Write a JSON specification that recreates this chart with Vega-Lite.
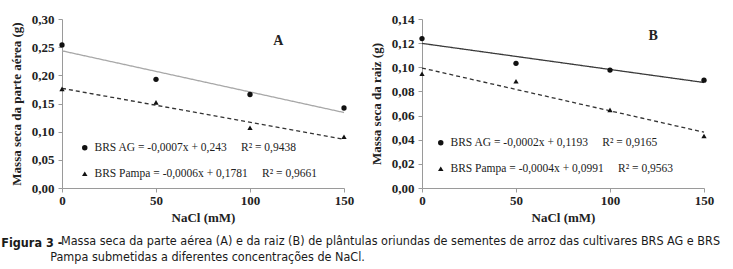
{
  "$schema": "https://vega.github.io/schema/vega-lite/v6.json",
  "padding": {"left": 1, "top": 13, "right": 5, "bottom": 5},
  "background": "white",
  "config": {
    "locale": {"number": {"decimal": ",", "thousands": ".", "grouping": [3], "currency": ["", ""]}},
    "view": {"stroke": null},
    "axis": {
      "grid": false,
      "domainColor": "#9a9a9a",
      "tickColor": "#9a9a9a",
      "tickSize": 4,
      "labelFont": "Liberation Serif",
      "labelFontWeight": "bold",
      "labelFontSize": 13,
      "labelColor": "#222",
      "labelOverlap": false,
      "labelFlush": false,
      "titleFont": "Liberation Serif",
      "titleFontWeight": "bold",
      "titleFontSize": 13,
      "titleColor": "#222"
    },
    "legend": {
      "labelFont": "Liberation Serif",
      "labelFontSize": 11.5,
      "labelColor": "#222",
      "labelLimit": 0,
      "padding": 0,
      "rowPadding": 13,
      "symbolSize": 30,
      "symbolFillColor": "#111",
      "symbolStrokeColor": "#111",
      "symbolStrokeWidth": 0
    },
    "concat": {"spacing": 16}
  },
  "datasets": {
    "pontosA": [
      {"nacl": 0, "massa": 0.254, "cultivar": "BRS AG"},
      {"nacl": 50, "massa": 0.193, "cultivar": "BRS AG"},
      {"nacl": 100, "massa": 0.166, "cultivar": "BRS AG"},
      {"nacl": 150, "massa": 0.142, "cultivar": "BRS AG"},
      {"nacl": 0, "massa": 0.176, "cultivar": "BRS Pampa"},
      {"nacl": 50, "massa": 0.152, "cultivar": "BRS Pampa"},
      {"nacl": 100, "massa": 0.107, "cultivar": "BRS Pampa"},
      {"nacl": 150, "massa": 0.091, "cultivar": "BRS Pampa"}
    ],
    "tendA": [
      {"nacl": 0, "massa": 0.2435, "serie": "AG"},
      {"nacl": 150, "massa": 0.134, "serie": "AG"},
      {"nacl": 0, "massa": 0.177, "serie": "Pampa"},
      {"nacl": 150, "massa": 0.0864, "serie": "Pampa"}
    ],
    "pontosB": [
      {"nacl": 0, "massa": 0.1238, "cultivar": "BRS AG"},
      {"nacl": 50, "massa": 0.1033, "cultivar": "BRS AG"},
      {"nacl": 100, "massa": 0.0977, "cultivar": "BRS AG"},
      {"nacl": 150, "massa": 0.0893, "cultivar": "BRS AG"},
      {"nacl": 0, "massa": 0.0946, "cultivar": "BRS Pampa"},
      {"nacl": 50, "massa": 0.0885, "cultivar": "BRS Pampa"},
      {"nacl": 100, "massa": 0.0647, "cultivar": "BRS Pampa"},
      {"nacl": 150, "massa": 0.0431, "cultivar": "BRS Pampa"}
    ],
    "tendB": [
      {"nacl": 0, "massa": 0.1198, "serie": "AG"},
      {"nacl": 150, "massa": 0.0874, "serie": "AG"},
      {"nacl": 0, "massa": 0.0994, "serie": "Pampa"},
      {"nacl": 150, "massa": 0.0462, "serie": "Pampa"}
    ],
    "rotuloA": [{"nacl": 115, "massa": 0.261, "rotulo": "A"}],
    "rotuloB": [{"nacl": 123, "massa": 0.1257, "rotulo": "B"}]
  },
  "title": {
    "text": ["\u200b\u00a0\u00a0\u00a0Massa seca da parte aérea (A) e da raiz (B) de plântulas oriundas de sementes de arroz das cultivares BRS AG e BRS", "Pampa submetidas a diferentes concentrações de NaCl."],
    "orient": "bottom",
    "anchor": "start",
    "frame": "bounds",
    "font": "DejaVu Sans Condensed, Liberation Sans Narrow, Liberation Sans",
    "fontSize": 12.5,
    "fontWeight": "normal",
    "color": "#1a1a1a",
    "lineHeight": 16,
    "baseline": "top",
    "dx": 49,
    "dy": -15,
    "offset": 0
  },
  "vconcat": [
    {
      "title": {
        "text": "Figura 3 -",
        "orient": "bottom",
        "anchor": "start",
        "frame": "bounds",
        "font": "DejaVu Sans Condensed, Liberation Sans Narrow, Liberation Sans",
        "fontSize": 12.5,
        "fontWeight": "bold",
        "color": "#1a1a1a",
        "baseline": "top",
        "dx": -9,
        "offset": 13
      },
      "resolve": {"scale": {"x": "independent", "y": "independent", "color": "independent", "shape": "independent", "strokeDash": "independent"}, "legend": {"shape": "independent"}},
      "hconcat": [
        {
          "width": 282,
          "height": 169,
          "encoding": {
            "x": {"field": "nacl", "type": "quantitative", "scale": {"domain": [0, 150], "nice": false}, "axis": {"values": [0, 50, 100, 150], "format": "d", "title": "NaCl (mM)", "labelPadding": 2, "titlePadding": 4, "labelOverlap": false}},
            "y": {"field": "massa", "type": "quantitative", "scale": {"domain": [0, 0.3], "nice": false}, "axis": {"values": [0, 0.05, 0.1, 0.15, 0.2, 0.25, 0.3], "tickCount": 7, "format": ".2f", "title": "Massa seca da parte aérea (g)", "labelPadding": 4, "titlePadding": 8, "labelOverlap": false, "labelFlush": false}}
          },
          "layer": [
            {
              "data": {"name": "tendA"},
              "mark": {"type": "line", "strokeWidth": 1.3},
              "encoding": {
                "color": {"field": "serie", "type": "nominal", "scale": {"domain": ["AG", "Pampa"], "range": ["#a8a8a8", "#333333"]}, "legend": null},
                "strokeDash": {"field": "serie", "type": "nominal", "scale": {"domain": ["AG", "Pampa"], "range": [[1, 0], [4, 3]]}, "legend": null}
              }
            },
            {
              "data": {"name": "pontosA"},
              "mark": {"type": "point", "filled": true, "color": "#111", "opacity": 1, "size": 28},
              "encoding": {
                "shape": {"field": "cultivar", "type": "nominal", "scale": {"domain": ["BRS AG", "BRS Pampa"], "range": ["circle", "triangle-up"]},
                  "legend": {"title": null, "orient": "none", "legendX": 17, "legendY": 123,
                    "labelExpr": "datum.label == 'BRS AG' ? 'BRS AG = -0,0007x + 0,243\u00a0\u00a0\u00a0\u00a0\u00a0R² = 0,9438' : 'BRS Pampa = -0,0006x + 0,1781\u00a0\u00a0\u00a0\u00a0\u00a0R² = 0,9661'"}}
              }
            },
            {
              "data": {"name": "rotuloA"},
              "mark": {"type": "text", "font": "Liberation Serif", "fontWeight": "bold", "fontSize": 14, "color": "#222"},
              "encoding": {
                "text": {"field": "rotulo"}
              }
            }
          ]
        },
        {
          "width": 282,
          "height": 169,
          "encoding": {
            "x": {"field": "nacl", "type": "quantitative", "scale": {"domain": [0, 150], "nice": false}, "axis": {"values": [0, 50, 100, 150], "format": "d", "title": "NaCl (mM)", "labelPadding": 2, "titlePadding": 4, "labelOverlap": false}},
            "y": {"field": "massa", "type": "quantitative", "scale": {"domain": [0, 0.14], "nice": false}, "axis": {"values": [0, 0.02, 0.04, 0.06, 0.08, 0.1, 0.12, 0.14], "tickCount": 8, "format": ".2f", "title": "Massa seca da raiz (g)", "labelPadding": 4, "titlePadding": 8, "labelOverlap": false, "labelFlush": false}}
          },
          "layer": [
            {
              "data": {"name": "tendB"},
              "mark": {"type": "line", "strokeWidth": 1.3},
              "encoding": {
                "color": {"field": "serie", "type": "nominal", "scale": {"domain": ["AG", "Pampa"], "range": ["#3a3a3a", "#333333"]}, "legend": null},
                "strokeDash": {"field": "serie", "type": "nominal", "scale": {"domain": ["AG", "Pampa"], "range": [[1, 0], [4, 3]]}, "legend": null}
              }
            },
            {
              "data": {"name": "pontosB"},
              "mark": {"type": "point", "filled": true, "color": "#111", "opacity": 1, "size": 28},
              "encoding": {
                "shape": {"field": "cultivar", "type": "nominal", "scale": {"domain": ["BRS AG", "BRS Pampa"], "range": ["circle", "triangle-up"]},
                  "legend": {"title": null, "orient": "none", "legendX": 13, "legendY": 118,
                    "labelExpr": "datum.label == 'BRS AG' ? 'BRS AG = -0,0002x + 0,1193\u00a0\u00a0\u00a0\u00a0\u00a0R² = 0,9165' : 'BRS Pampa = -0,0004x + 0,0991\u00a0\u00a0\u00a0\u00a0\u00a0R² = 0,9563'"}}
              }
            },
            {
              "data": {"name": "rotuloB"},
              "mark": {"type": "text", "font": "Liberation Serif", "fontWeight": "bold", "fontSize": 14, "color": "#222"},
              "encoding": {
                "text": {"field": "rotulo"}
              }
            }
          ]
        }
      ]
    }
  ]
}
